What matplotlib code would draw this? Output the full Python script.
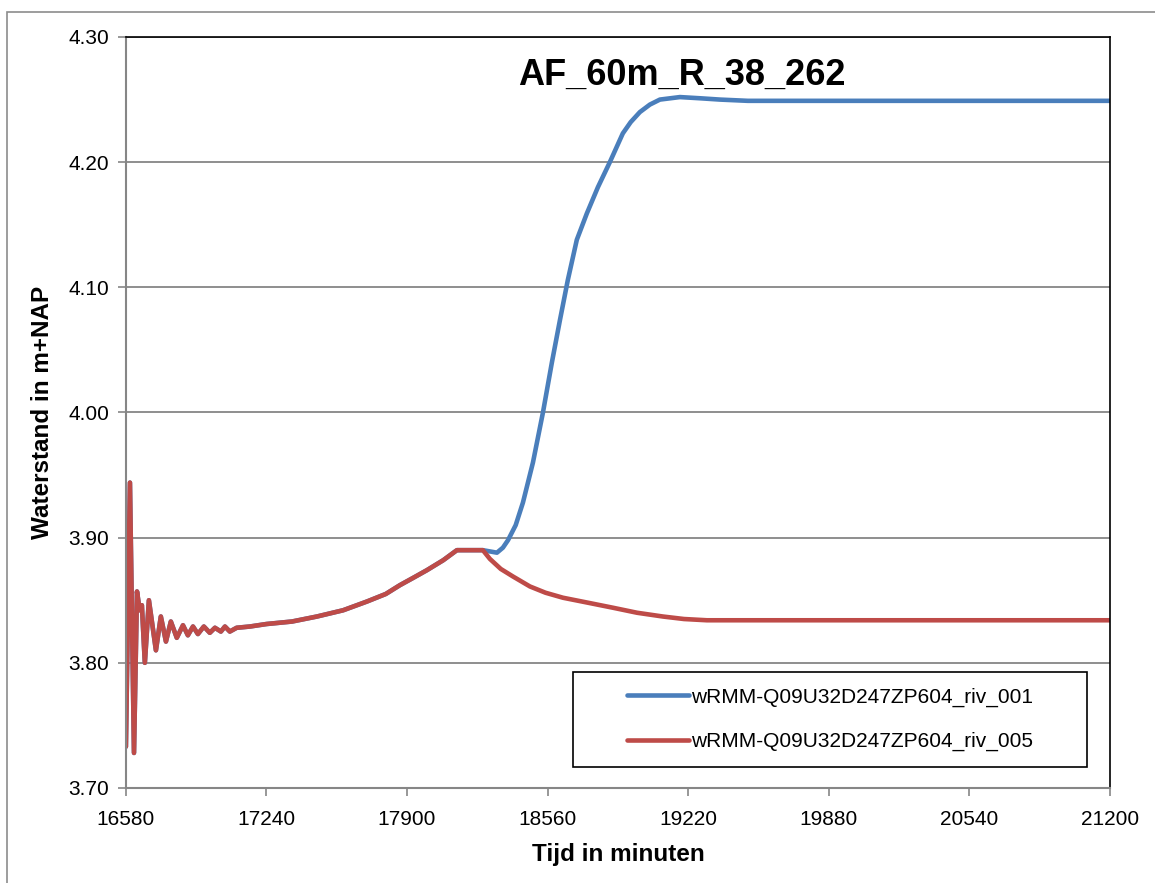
import numpy as np
import matplotlib.pyplot as plt
from matplotlib.patches import Rectangle

# Gemeenschappelijk deel (beide reeksen vallen samen tot ca. 18256 min)
t_common = [16580, 16599, 16618, 16632, 16645, 16655, 16669, 16688, 16721, 16744,
            16768, 16791, 16819, 16848, 16871, 16895, 16918, 16946, 16974, 16998,
            17026, 17045, 17068, 17100, 17162, 17240, 17360, 17477, 17600, 17712,
            17800, 17866, 17930, 17993, 18070, 18134, 18200, 18256]
v_common = [3.733, 3.944, 3.728, 3.857, 3.842, 3.846, 3.800, 3.850, 3.810, 3.837,
            3.817, 3.833, 3.820, 3.830, 3.822, 3.829, 3.823, 3.829, 3.824, 3.828,
            3.825, 3.829, 3.825, 3.828, 3.829, 3.831, 3.833, 3.837, 3.842, 3.849,
            3.855, 3.862, 3.868, 3.874, 3.882, 3.890, 3.890, 3.890]

# riv_001: stijgt na de piek
t_001 = [18289, 18322, 18350, 18374, 18410, 18444, 18491, 18538, 18580, 18618,
         18655, 18697, 18744, 18796, 18852, 18913, 18950, 18993, 19040, 19087,
         19181, 19280, 19369, 19500, 20000, 21200]
v_001 = [3.889, 3.888, 3.892, 3.898, 3.910, 3.928, 3.960, 4.000, 4.040, 4.074,
         4.106, 4.138, 4.159, 4.180, 4.200, 4.223, 4.232, 4.240, 4.246, 4.250,
         4.252, 4.251, 4.250, 4.249, 4.249, 4.249]

# riv_005: zakt na de piek
t_005 = [18289, 18340, 18397, 18477, 18550, 18632, 18750, 18867, 18980, 19101,
         19200, 19308, 19600, 20000, 21200]
v_005 = [3.883, 3.875, 3.869, 3.861, 3.856, 3.852, 3.848, 3.844, 3.840, 3.837,
         3.835, 3.834, 3.834, 3.834, 3.834]

labels = ['wRMM-Q09U32D247ZP604_riv_001', 'wRMM-Q09U32D247ZP604_riv_005']
xticks = [16580, 17240, 17900, 18560, 19220, 19880, 20540, 21200]
yticks = [3.70, 3.80, 3.90, 4.00, 4.10, 4.20, 4.30]

plt.rcParams['font.family'] = ['Liberation Sans', 'DejaVu Sans']

fig = plt.figure(figsize=(11.55, 8.83), dpi=100)
ax = fig.add_axes([0.109, 0.1076, 0.852, 0.8505])

# buitenrand van de grafiek (rechts en onder buiten beeld)
fig.patches.append(Rectangle((7 / 1155, -0.2), 1.2, 0.2 + 871 / 883, transform=fig.transFigure,
                             fill=False, edgecolor='#8c8c8c', lw=1.2))

ax.plot(t_common + t_001, v_common + v_001, color='#4a7ebb', lw=3.3, label=labels[0],
        solid_joinstyle='round', solid_capstyle='round')
ax.plot(t_common + t_005, v_common + v_005, color='#be4b48', lw=3.3, label=labels[1],
        solid_joinstyle='round', solid_capstyle='round')

ax.set_xlim(16580, 21200)
ax.set_ylim(3.70, 4.30)
ax.set_xticks(xticks)
ax.set_yticks(yticks)
ax.set_yticklabels([f'{v:.2f}' for v in yticks])
ax.grid(axis='y', color='#868686', lw=1.3)
ax.set_axisbelow(True)
ax.tick_params(axis='both', direction='out', length=6, width=1.2, color='#868686',
               labelsize=15, pad=6)
ax.tick_params(axis='x', pad=10)
for s in ['left', 'bottom']:
    ax.spines[s].set_color('#868686')
    ax.spines[s].set_linewidth(1.5)
for s in ['top', 'right']:
    ax.spines[s].set_color('black')
    ax.spines[s].set_linewidth(1.2)

ax.set_xlabel('Tijd in minuten', fontsize=17.5, fontweight='bold', labelpad=10)
ax.set_ylabel('Waterstand in m+NAP', fontsize=17.5, fontweight='bold', labelpad=10)

ax.text(0.565, 0.949, 'AF_60m_R_38_262', transform=ax.transAxes, ha='center', va='center',
        fontsize=26, fontweight='bold')

# legenda met eigen kader
ax.add_patch(Rectangle((0.454, 0.028), 0.523, 0.126, transform=ax.transAxes,
                       facecolor='white', edgecolor='black', lw=1.2, zorder=5))
leg = ax.legend(loc='center', bbox_to_anchor=(0.7154, 0.0912), frameon=False,
                fontsize=15, handlelength=3.0, handletextpad=0.1, labelspacing=1.2)
leg.set_zorder(6)

fig.savefig('out.png', dpi=100)
